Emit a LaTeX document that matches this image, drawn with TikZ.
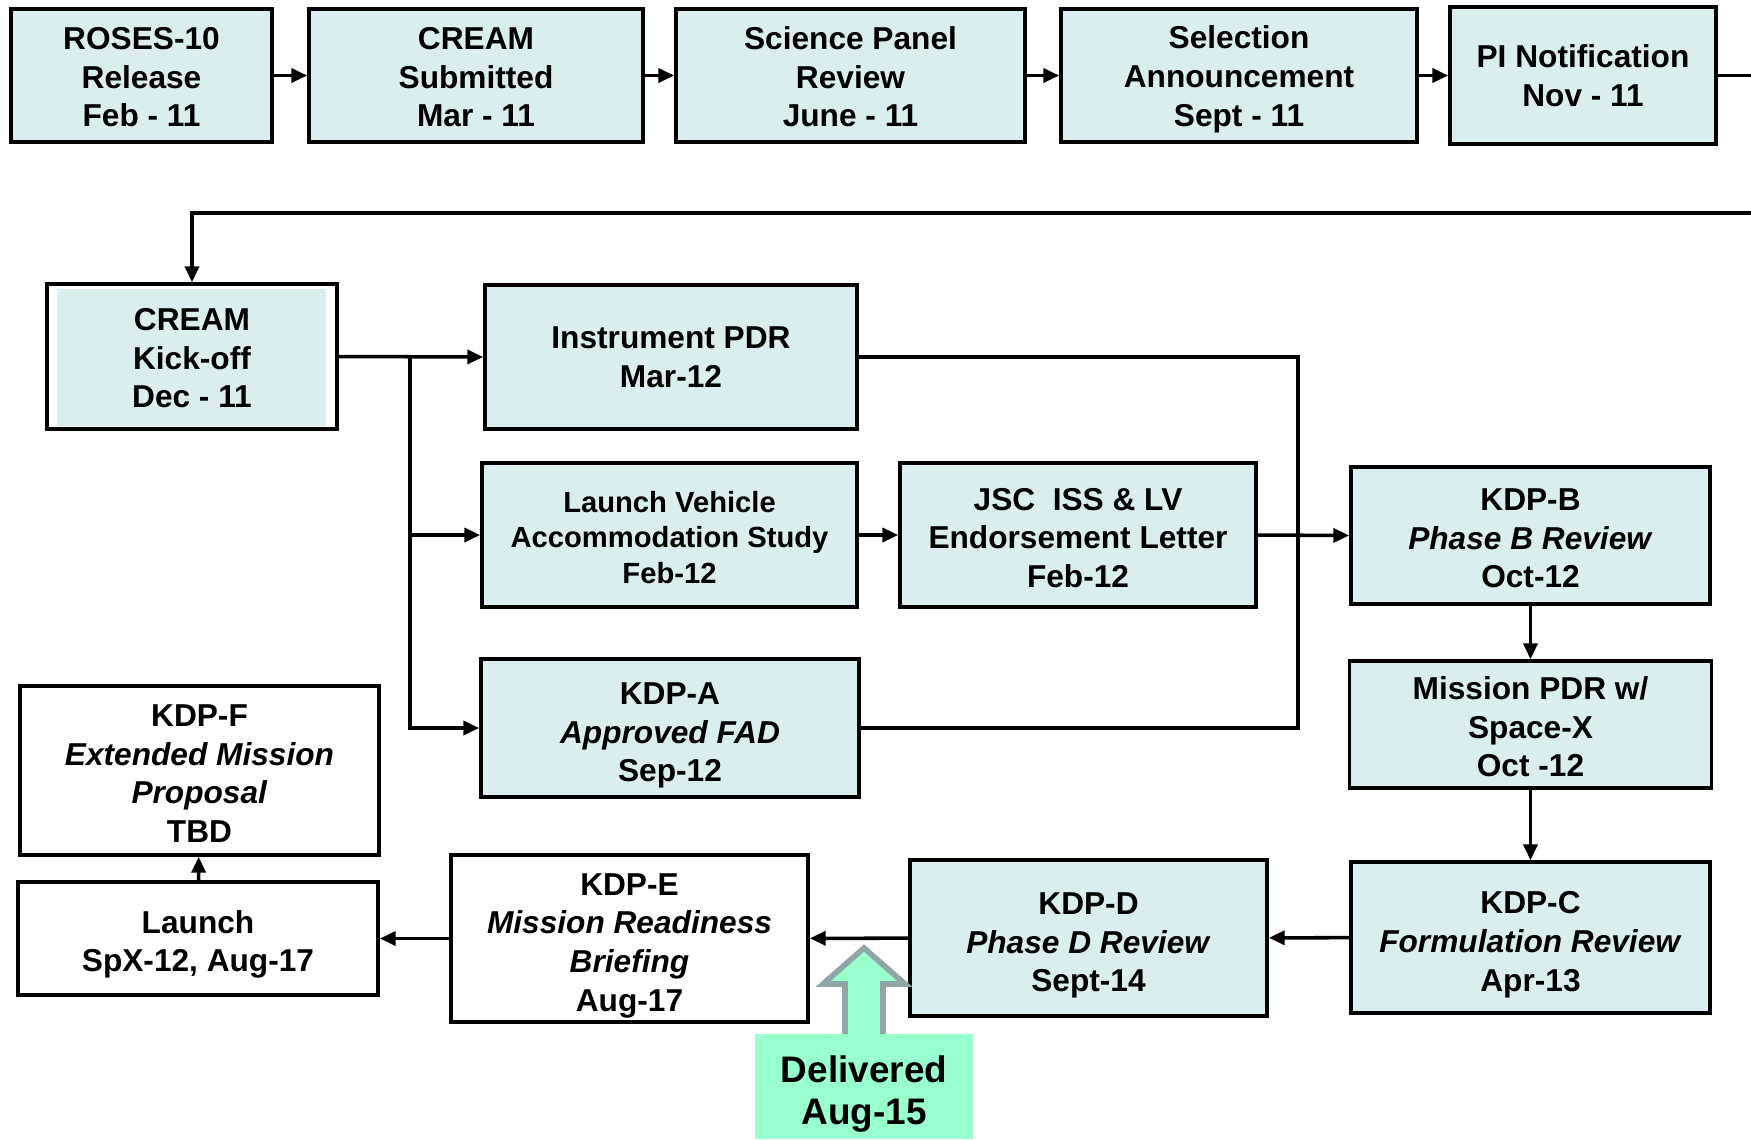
\documentclass[tikz,border=0pt]{standalone}
\usepackage{fontspec}
\setmainfont{Liberation Sans}
\usepackage{tikz}
\usetikzlibrary{calc}
\usetikzlibrary{arrows.meta}
\usetikzlibrary{positioning}
\definecolor{BoxBlue}{RGB}{218,237,239}
\definecolor{DeliveredGreen}{RGB}{153,255,204}
\definecolor{ArrowGrey}{RGB}{143,166,166}
\newcommand{\dropTo}[1]{\rule{0pt}{#1}}
\newcommand{\kdpLabel}[4]{\dropTo{#4}#1\\\textit{#2}\\#3}

\tikzset{
	milestone/.style={draw, line width=1pt, fill=BoxBlue, align=center, inner sep=0pt,
		font=\fontsize{9}{11}\selectfont\bfseries},
	whitestone/.style={milestone, fill=white},
	kickoff/.style={milestone, fill=white,
		path picture={\fill[BoxBlue] ($(path picture bounding box.south west)+(0.1cm,0.03cm)$)
			rectangle ($(path picture bounding box.north east)+(-0.11cm,-0.05cm)$);}},
	link/.style={line width=1pt, ->},
	>={Triangle[length=4.5pt,width=4pt]}
}

\begin{document}
\begin{tikzpicture}[x=0.01cm, y=-0.01cm]
	\useasboundingbox (0,0) rectangle (1751,1139);

	% proposal row
	\node [milestone, minimum width=2.61cm, minimum height=1.33cm] (roses) at (141.5,75.5) {\dropTo{7.2pt}ROSES-10\\Release\\Feb - 11};
	\node [milestone, minimum width=3.34cm, minimum height=1.33cm] (submit) at (476,75.5) {\dropTo{7.2pt}CREAM\\Submitted\\Mar - 11};
	\node [milestone, minimum width=3.49cm, minimum height=1.33cm] (panel) at (850.5,75.5) {\dropTo{7.2pt}Science Panel\\Review\\June - 11};
	\node [milestone, minimum width=3.56cm, minimum height=1.33cm] (select) at (1239,75.5) {\dropTo{8.6pt}Selection\\Announcement\\Sept - 11};
	\node [milestone, minimum width=2.66cm, minimum height=1.37cm] (notify) at (1583,75.5) {PI Notification\\Nov - 11};

	% formulation
	\node [kickoff, minimum width=2.90cm, minimum height=1.45cm] (kickoff) at (192,356.5) {\dropTo{7.2pt}CREAM\\Kick-off\\Dec - 11};
	\node [milestone, minimum width=3.72cm, minimum height=1.44cm] (instpdr) at (671,357) {Instrument PDR\\Mar-12};
	\node [milestone, minimum width=3.75cm, minimum height=1.44cm,
		font=\fontsize{8.3}{10.2}\selectfont\bfseries] (lvstudy) at (669.5,535) {\dropTo{7.4pt}Launch Vehicle\\Accommodation Study\\Feb-12};
	\node [milestone, minimum width=3.56cm, minimum height=1.44cm] (jsc) at (1078,535) {\dropTo{8pt}JSC\ \ ISS \& LV\\Endorsement Letter\\Feb-12};
	\node [milestone, minimum width=3.78cm, minimum height=1.38cm] (kdpa) at (670,728) {\kdpLabel{KDP-A}{Approved FAD}{Sep-12}{10.4pt}};
	\node [milestone, minimum width=3.59cm, minimum height=1.37cm] (kdpb) at (1530.5,535.5) {\kdpLabel{KDP-B}{Phase B Review}{Oct-12}{7.9pt}};
	\node [milestone, minimum width=3.62cm, minimum height=1.27cm] (mpdr) at (1530.5,724.5) {\dropTo{7.9pt}Mission PDR w/\\Space-X\\Oct -12};

	% implementation
	\node [milestone, minimum width=3.59cm, minimum height=1.51cm] (kdpc) at (1530.5,937.5) {\kdpLabel{KDP-C}{Formulation Review}{Apr-13}{10.4pt}};
	\node [milestone, minimum width=3.57cm, minimum height=1.56cm] (kdpd) at (1088.5,938) {\kdpLabel{KDP-D}{Phase D Review}{Sept-14}{10.4pt}};
	\node [whitestone, minimum width=3.57cm, minimum height=1.67cm] (kdpe) at (629.5,938.5) {\dropTo{10.2pt}KDP-E\\\textit{Mission Readiness}\\\textit{Briefing}\\Aug-17};
	\node [whitestone, minimum width=3.60cm, minimum height=1.13cm] (launch) at (198,938.5) {\dropTo{9.8pt}Launch\\SpX-12, Aug-17};
	\node [whitestone, minimum width=3.59cm, minimum height=1.69cm] (kdpf) at (199.5,770.5) {\dropTo{7.9pt}KDP-F\\\textit{Extended Mission}\\\textit{Proposal}\\TBD};

	% row 1 links
	\draw [link] (roses) -- (submit);
	\draw [link] (submit) -- (panel);
	\draw [link] (panel) -- (select);
	\draw [link] (select) -- (notify);
	\coordinate (edgeOut) at (1751,75.5);
	\coordinate (edgeIn) at (1751,213);
	\draw [line width=1pt] (notify.east) -- (edgeOut);
	\draw [link] (edgeIn) -| (kickoff.north);

	% split after kick-off
	\coordinate (split) at (410,356.5);
	\draw [link] (kickoff.east) -- (instpdr.west);
	\draw [link] (split) |- (lvstudy.west);
	\draw [link] (split) |- (kdpa.west);
	\draw [link] (lvstudy) -- (jsc);

	% join before KDP-B
	\coordinate (busTop) at (1298,357);
	\coordinate (busBot) at (1298,728);
	\draw [line width=1pt] (instpdr.east) -- (busTop) -- (busBot) -- (kdpa.east);
	\draw [link] (jsc.east) -- (kdpb.west);

	\draw [link] (kdpb) -- (mpdr);
	\draw [link] (mpdr) -- (kdpc);
	\draw [link] (kdpc) -- (kdpd);
	\draw [link] (kdpd) -- (kdpe);
	\draw [link] (kdpe) -- (launch);
	\draw [link] (launch) -- (kdpf);

	% delivered marker
	\draw [ArrowGrey, line width=1.6pt, fill=DeliveredGreen] (864,948) -- (905,984) -- (883,984) -- (883,1045)
		-- (845,1045) -- (845,984) -- (823,984) -- cycle;
	\node [fill=DeliveredGreen, minimum width=2.18cm, minimum height=1.05cm, align=center, inner sep=0pt,
		font=\fontsize{10.5}{12}\selectfont\bfseries] (delivered) at (864,1086.5) {\dropTo{12.1pt}Delivered\\Aug-15};
\end{tikzpicture}
\end{document}
